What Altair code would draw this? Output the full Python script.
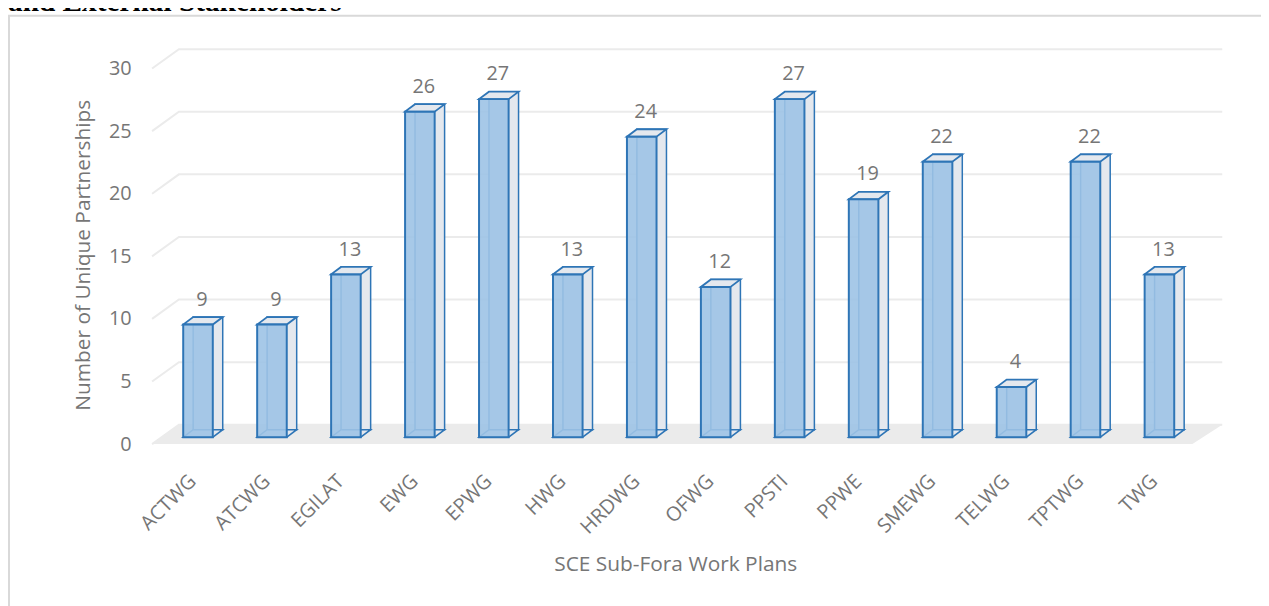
import altair as alt
import pandas as pd

categories = ["ACTWG", "ATCWG", "EGILAT", "EWG", "EPWG", "HWG", "HRDWG",
              "OFWG", "PPSTI", "PPWE", "SMEWG", "TELWG", "TPTWG", "TWG"]
values = [9, 9, 13, 26, 27, 13, 24, 12, 27, 19, 22, 4, 22, 13]
y_ticks = [0, 5, 10, 15, 20, 25, 30]
x_title = "SCE Sub-Fora Work Plans"
y_title = "Number of Unique Partnerships"
fragment_title = "and External Stakeholders"

W, H = 1042, 378
FONT = "Open Sans"
GREY = "#767676"
BLUE = "#2e75b6"
FRONT = "#9dc3e6"
SIDE = "#e4e8ee"
GRID = "#ebebeb"
FLOOR = "#ebebeb"

df = pd.DataFrame({"cat": categories, "val": values})
grid_df = pd.DataFrame({"val": y_ticks})
one = pd.DataFrame({"val": [0]})

xscale = alt.Scale(domain=categories, paddingInner=0.6, paddingOuter=0.3)
yscale = alt.Scale(domain=[0, 30], nice=False)

# decorative 3D shapes (custom symbol paths, 1 unit = 100 px)
GRID_PATH = "M -0.09 0.07 L 0.18 -0.125 L 10.68 -0.125"
FLOOR_PATH = "M -0.09 0.07 L 10.38 0.07 L 10.68 -0.125 L 0.18 -0.125 Z"
CAP_PATH = "M -0.149 0 L 0.149 0 L 0.249 -0.075 L -0.049 -0.075 Z"

x_ax = alt.Axis(title=None, labelAngle=-45, labelAlign="right",
                labelBaseline="middle", labelFont=FONT,
                labelFontSize=20, labelColor=GREY, labelPadding=41,
                labelOffset=-5, domain=False, ticks=False, grid=False)
y_ax = alt.Axis(title=None, values=y_ticks, labelFont=FONT,
                labelFontSize=20, labelColor=GREY, labelPadding=30,
                labelOffset=7, domain=False, ticks=False, grid=False)

x_enc = alt.X("cat:N", scale=xscale, axis=x_ax)
y_enc = alt.Y("val:Q", scale=yscale, axis=y_ax)

border = alt.Chart(one).mark_rect(fillOpacity=0, stroke="#d9d9d9", strokeWidth=2).encode(
    x=alt.value(-153), y=alt.value(-46), x2=alt.value(W + 100), y2=alt.value(H + 220))

frag = alt.Chart(one).mark_text(font="Liberation Serif", fontSize=29.5,
                                fontWeight="bold", align="left", baseline="alphabetic",
                                color="black").encode(
    x=alt.value(-154), y=alt.value(-51), text=alt.value(fragment_title))

grid = alt.Chart(grid_df).mark_point(shape=GRID_PATH, size=40000, filled=False,
                                     stroke=GRID, strokeWidth=2, opacity=1).encode(
    x=alt.value(0), y=y_enc)

floor = alt.Chart(one).mark_point(shape=FLOOR_PATH, size=40000, filled=True,
                                  color=FLOOR, strokeWidth=0, opacity=1).encode(
    x=alt.value(0), y=y_enc)

base = alt.Chart(df)
back = base.mark_bar(xOffset=10, yOffset=-7.5, y2Offset=-7.5,
                     fill=SIDE, stroke=BLUE, strokeWidth=1.5).encode(x=x_enc, y=y_enc)
bottom_cap = base.transform_calculate(val2="0").mark_point(
    shape=CAP_PATH, size=40000, filled=True, fill=SIDE,
    stroke=BLUE, strokeWidth=1.5, opacity=1).encode(
    x=x_enc, y=alt.Y("val2:Q", scale=yscale, axis=y_ax))
top_cap = base.mark_point(shape=CAP_PATH, size=40000, filled=True, fill=SIDE,
                          stroke=BLUE, strokeWidth=1.8, opacity=1).encode(
    x=x_enc, y=y_enc)
front = base.mark_bar(fill=FRONT, fillOpacity=0.9, stroke=BLUE, strokeWidth=2).encode(
    x=x_enc, y=y_enc)
labels = base.mark_text(dy=-25, dx=4, font=FONT, fontSize=20, color=GREY,
                        baseline="middle").encode(x=x_enc, y=y_enc, text="val:Q")

ytitle = alt.Chart(one).mark_text(angle=270, font=FONT, fontSize=21,
                                  color=GREY, baseline="middle", align="center").encode(
    x=alt.value(-77), y=alt.value(195), text=alt.value(y_title))
xtitle = alt.Chart(one).mark_text(font=FONT, fontSize=21, color=GREY,
                                  baseline="middle", align="center").encode(
    x=alt.value(518), y=alt.value(507), text=alt.value(x_title))

chart = alt.layer(border, frag, grid, floor, back, bottom_cap, top_cap, front, labels,
                  ytitle, xtitle).properties(
    width=W, height=H,
    autosize=alt.AutoSizeParams(type="none"),
    padding={"left": 154, "top": 52, "right": 65, "bottom": 168},
).configure_view(stroke=None)

chart.save("out.html", embed_options={"renderer": "svg", "actions": False})
